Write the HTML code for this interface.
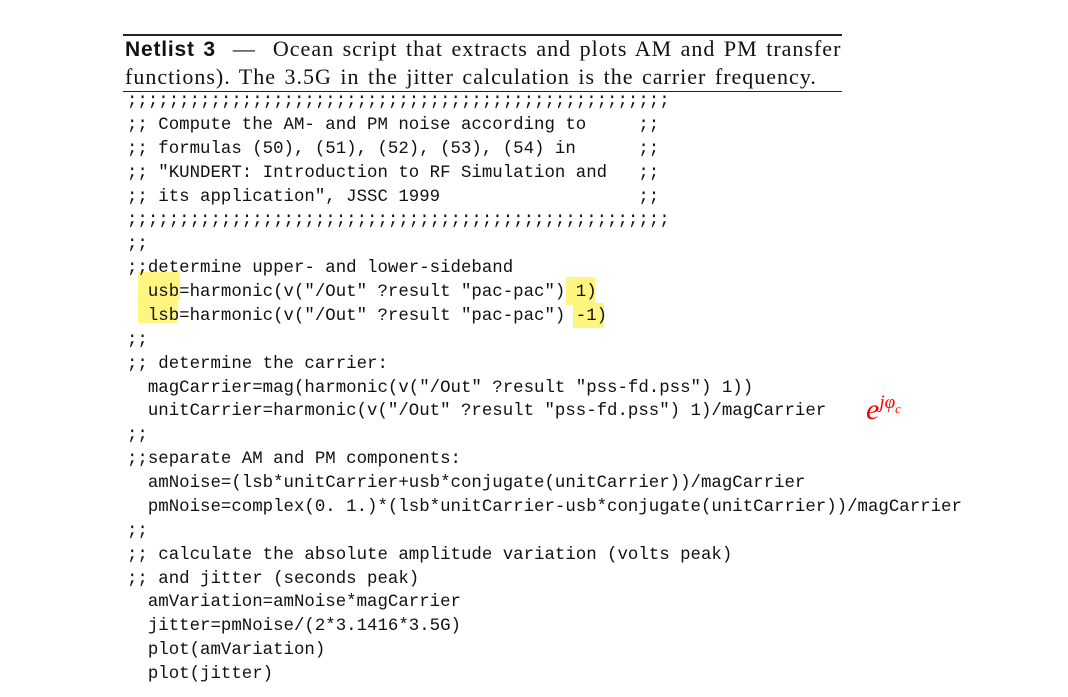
<!DOCTYPE html>
<html><head><style>
body{margin:0;background:#fff;width:1068px;height:697px;position:relative;overflow:hidden}
.r{position:absolute;left:123px;width:719px;background:#222}
.cap{position:absolute;left:125px;top:35px;font-family:"Liberation Serif",serif;font-size:22px;line-height:27px;color:#111;width:760px;white-space:nowrap;letter-spacing:1px;word-spacing:2px}
.cap b{font-family:"Liberation Sans",sans-serif;font-size:21px;letter-spacing:0.8px}
pre{position:absolute;left:127px;top:90px;margin:0;font-family:"Liberation Mono",monospace;font-size:17.4px;line-height:23.87px;color:#111}
.h{position:absolute;background:#fff36a;opacity:.85}
.e{position:absolute;left:866px;top:392px;color:#f00;font-family:"Liberation Serif",serif;font-style:italic;font-size:30px}
.e sup{font-size:19px}
</style></head><body>
<div class="r" style="top:34px;height:2px"></div>
<div class="r" style="top:91px;height:1px"></div>
<div class="cap"><b>Netlist 3</b> &nbsp;— &nbsp;Ocean script that extracts and plots AM and PM transfer<br>functions). The 3.5G in the jitter calculation is the carrier frequency.</div>
<div class="h" style="left:138px;top:272px;width:42px;height:28px"></div>
<div class="h" style="left:138px;top:298px;width:40px;height:25px"></div>
<div class="h" style="left:566px;top:277px;width:29px;height:28px"></div>
<div class="h" style="left:573px;top:303px;width:31px;height:25px"></div>
<pre>;;;;;;;;;;;;;;;;;;;;;;;;;;;;;;;;;;;;;;;;;;;;;;;;;;;;
;; Compute the AM- and PM noise according to     ;;
;; formulas (50), (51), (52), (53), (54) in      ;;
;; "KUNDERT: Introduction to RF Simulation and   ;;
;; its application", JSSC 1999                   ;;
;;;;;;;;;;;;;;;;;;;;;;;;;;;;;;;;;;;;;;;;;;;;;;;;;;;;
;;
;;determine upper- and lower-sideband
  usb=harmonic(v("/Out" ?result "pac-pac") 1)
  lsb=harmonic(v("/Out" ?result "pac-pac") -1)
;;
;; determine the carrier:
  magCarrier=mag(harmonic(v("/Out" ?result "pss-fd.pss") 1))
  unitCarrier=harmonic(v("/Out" ?result "pss-fd.pss") 1)/magCarrier
;;
;;separate AM and PM components:
  amNoise=(lsb*unitCarrier+usb*conjugate(unitCarrier))/magCarrier
  pmNoise=complex(0. 1.)*(lsb*unitCarrier-usb*conjugate(unitCarrier))/magCarrier
;;
;; calculate the absolute amplitude variation (volts peak)
;; and jitter (seconds peak)
  amVariation=amNoise*magCarrier
  jitter=pmNoise/(2*3.1416*3.5G)
  plot(amVariation)
  plot(jitter)</pre>
<div class="e">e<sup>jφ<sub style="font-size:13px">c</sub></sup></div>
</body></html>
